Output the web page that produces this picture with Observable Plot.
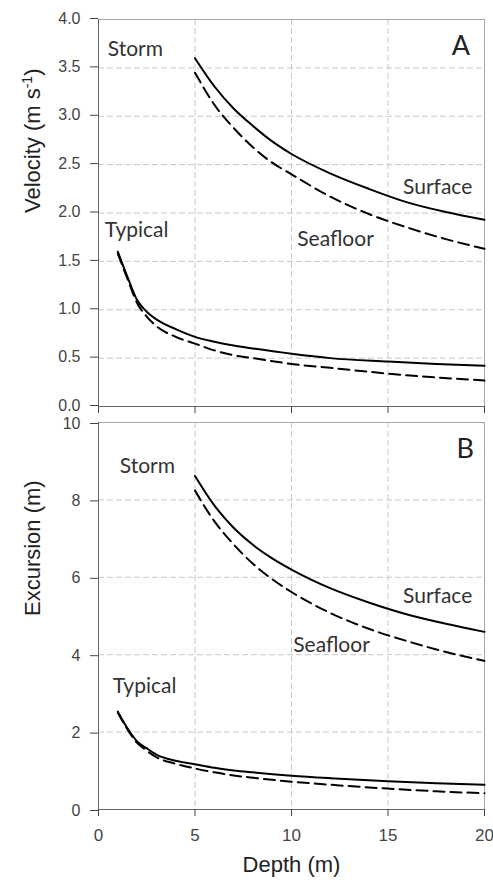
<!DOCTYPE html>
<html>
<head>
<meta charset="utf-8">
<script src="https://cdn.jsdelivr.net/npm/d3@7"></script>
<script src="https://cdn.jsdelivr.net/npm/@observablehq/plot@0.6"></script>
<style>
  html, body { margin: 0; padding: 0; background: white; }
  #chart svg { display: block; }
</style>
</head>
<body>
<div id="chart"></div>
<script>
// ---- data ----
const depthTicks = [0, 5, 10, 15, 20];
const velocityTicks = [0, 0.5, 1.0, 1.5, 2.0, 2.5, 3.0, 3.5, 4.0];
const excursionTicks = [0, 2, 4, 6, 8, 10];

const depthTypical = [1, 1.5, 2, 2.5, 3, 4, 5, 6, 7, 8, 10, 12, 15, 17.5, 20];
const depthStorm = [5, 6, 7, 8, 9, 10, 12, 14, 16, 18, 20];

// Panel A: velocity (m/s)
const velTypicalSurface  = [1.60, 1.34, 1.10, 0.98, 0.90, 0.80, 0.72, 0.67, 0.63, 0.60, 0.545, 0.50, 0.465, 0.44, 0.42];
const velTypicalSeafloor = [1.58, 1.32, 1.07, 0.93, 0.83, 0.72, 0.65, 0.58, 0.53, 0.50, 0.44, 0.40, 0.34, 0.30, 0.27];
const velStormSurface    = [3.60, 3.31, 3.08, 2.90, 2.74, 2.61, 2.41, 2.25, 2.11, 2.01, 1.93];
const velStormSeafloor   = [3.45, 3.12, 2.88, 2.68, 2.52, 2.40, 2.17, 1.99, 1.85, 1.73, 1.63];

// Panel B: excursion (m)
const excTypicalSurface  = [2.53, 2.10, 1.76, 1.58, 1.42, 1.26, 1.17, 1.08, 1.01, 0.96, 0.875, 0.81, 0.73, 0.68, 0.64];
const excTypicalSeafloor = [2.50, 2.07, 1.72, 1.52, 1.35, 1.18, 1.06, 0.96, 0.88, 0.82, 0.72, 0.64, 0.54, 0.47, 0.42];
const excStormSurface    = [8.62, 7.86, 7.28, 6.84, 6.49, 6.20, 5.72, 5.35, 5.04, 4.80, 4.59];
const excStormSeafloor   = [8.24, 7.45, 6.85, 6.35, 5.95, 5.62, 5.08, 4.67, 4.35, 4.07, 3.84];

// annotation labels (data coordinates: depth, value)
const labelTextA  = ["Storm", "Typical", "Surface", "Seafloor"];
const labelDepthA = [0.48, 0.33, 15.78, 10.30];
const labelValueA = [3.62, 1.75, 2.20, 1.66];
const labelTextB  = ["Storm", "Typical", "Surface", "Seafloor"];
const labelDepthB = [1.10, 0.74, 15.78, 10.09];
const labelValueB = [8.70, 3.00, 5.34, 4.07];

// ---- helpers ----
const rows = (xs, ys) => xs.map((d, i) => ({depth: d, value: ys[i]}));
const labels = (t, xs, ys) => t.map((s, i) => ({text: s, depth: xs[i], value: ys[i]}));

const tickFont = "Liberation Sans, Arial, sans-serif";
const annFont = "Lato, 'Open Sans', sans-serif";
const gridStyle = {stroke: "#c8c8c8", strokeOpacity: 1, strokeDasharray: "6,3", strokeWidth: 1};
const solid = {x: "depth", y: "value", stroke: "black", strokeWidth: 2, curve: "monotone-x"};
const dashed = {...solid, strokeDasharray: "11,6"};

function panel({height, marginTop, marginBottom, yDomain, yTicks, yFmt, yDy, series, labelData, letter, letterPos, yLabel, xLabels}) {
  const inner = yTicks.filter(v => v > yDomain[0] && v < yDomain[1]);
  const marks = [
    Plot.gridX(depthTicks.filter(v => v > 0 && v < 20), gridStyle),
    Plot.gridY(inner, gridStyle),
    Plot.frame({stroke: "#a8a8a8"}),
    Plot.ruleX([0], {stroke: "#666"}),
    Plot.ruleY([yDomain[0]], {stroke: "#666"}),
    Plot.axisY(yTicks, {tickSize: 8, tickPadding: 10, tickFormat: yFmt, label: null, color: "#444", fontSize: 16, fontFamily: tickFont, dy: yDy}),
    Plot.axisX(depthTicks, {tickSize: 7, tickPadding: 12, tickFormat: xLabels ? (d => String(d)) : (() => ""), label: null, color: "#444", fontSize: 17, fontFamily: tickFont}),
    Plot.line(series.typSurface, solid),
    Plot.line(series.typSeafloor, dashed),
    Plot.line(series.stormSurface, solid),
    Plot.line(series.stormSeafloor, dashed),
    Plot.text(labelData, {x: "depth", y: "value", text: "text", textAnchor: "start", lineAnchor: "bottom", fontSize: 21, fontFamily: annFont, fill: "#333"}),
    Plot.text([letter], {x: () => letterPos[0], y: () => letterPos[1], textAnchor: "middle", lineAnchor: "bottom", fontSize: 27, fontFamily: annFont, fill: "#222"}),
    Plot.text([yLabel], {frameAnchor: "left", dx: -66, rotate: -90, fontSize: 22, fontFamily: tickFont, fill: "#222"})
  ];
  if (xLabels) marks.push(Plot.text(["Depth (m)"], {frameAnchor: "bottom", dy: 62, fontSize: 22, fontFamily: tickFont, fill: "#222"}));
  return Plot.plot({
    width: 493, height, marginTop, marginBottom, marginLeft: 98, marginRight: 9,
    style: {fontFamily: tickFont, fontSize: "16px", background: "white", overflow: "visible"},
    x: {domain: [0, 20]},
    y: {domain: yDomain},
    marks
  });
}

const panelA = panel({
  height: 414, marginTop: 19, marginBottom: 8,
  yDomain: [0, 4], yTicks: velocityTicks, yFmt: d => d.toFixed(1), yDy: -1,
  series: {
    typSurface: rows(depthTypical, velTypicalSurface),
    typSeafloor: rows(depthTypical, velTypicalSeafloor),
    stormSurface: rows(depthStorm, velStormSurface),
    stormSeafloor: rows(depthStorm, velStormSeafloor)
  },
  labelData: labels(labelTextA, labelDepthA, labelValueA),
  letter: "A", letterPos: [18.78, 3.63],
  yLabel: "Velocity (m s-1)", xLabels: false
});
const panelB = panel({
  height: 472, marginTop: 8, marginBottom: 77,
  yDomain: [0, 10], yTicks: excursionTicks, yFmt: d => String(d), yDy: 1,
  series: {
    typSurface: rows(depthTypical, excTypicalSurface),
    typSeafloor: rows(depthTypical, excTypicalSeafloor),
    stormSurface: rows(depthStorm, excStormSurface),
    stormSeafloor: rows(depthStorm, excStormSeafloor)
  },
  labelData: labels(labelTextB, labelDepthB, labelValueB),
  letter: "B", letterPos: [19.0, 9.09],
  yLabel: "Excursion (m)", xLabels: true
});

const host = document.getElementById("chart");
host.appendChild(panelA);
host.appendChild(panelB);

// superscript for the velocity unit
panelA.querySelectorAll("text").forEach(t => {
  if (t.textContent === "Velocity (m s-1)") {
    t.textContent = "";
    const ns = "http://www.w3.org/2000/svg";
    t.appendChild(document.createTextNode("Velocity (m s"));
    const sup = document.createElementNS(ns, "tspan");
    sup.setAttribute("dy", "-8");
    sup.setAttribute("font-size", "14");
    sup.textContent = "-1";
    t.appendChild(sup);
    const close = document.createElementNS(ns, "tspan");
    close.setAttribute("dy", "8");
    close.textContent = ")";
    t.appendChild(close);
  }
});
</script>
</body>
</html>
